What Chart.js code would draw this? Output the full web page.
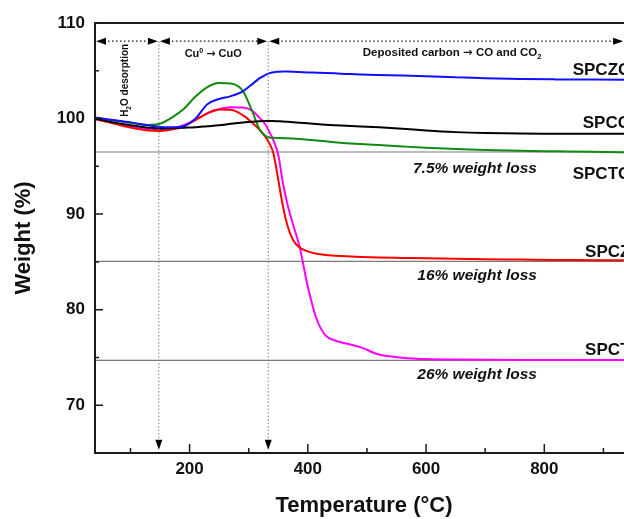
<!DOCTYPE html>
<html>
<head>
<meta charset="utf-8">
<script src="https://cdn.jsdelivr.net/npm/chart.js@4.4.0/dist/chart.umd.min.js"></script>
<style>
  html, body { margin: 0; padding: 0; background: #fff; width: 624px; height: 519px; overflow: hidden; }
  #tgaChart { display: block; }
</style>
</head>
<body>
<canvas id="tgaChart" width="660" height="519"></canvas>
<script>
// temperatures (°C) shared by all curves
const temps = [40, 70, 100, 130, 150, 170, 190, 210, 230, 250, 270, 290, 305, 318, 328, 335, 342, 350, 358, 366,
  375, 386, 400, 415, 430, 445, 465, 490, 520, 560, 600, 650, 700, 760, 820, 880, 950];

// weight (%) per sample
const spczc = [100.1, 99.85, 99.6, 99.3, 99.12, 99.08, 99.2, 100.0, 101.5, 102.05, 102.35, 102.85, 103.55, 104.2, 104.55, 104.75, 104.85, 104.9, 104.93, 104.92,
  104.9, 104.87, 104.83, 104.8, 104.77, 104.73, 104.67, 104.6, 104.55, 104.5, 104.42, 104.32, 104.22, 104.14, 104.1, 104.08, 104.06];
const spcc = [100.0, 99.6, 99.3, 99.05, 98.95, 99.0, 99.05, 99.1, 99.2, 99.3, 99.45, 99.58, 99.67, 99.72, 99.74, 99.75, 99.74, 99.72, 99.7, 99.66,
  99.62, 99.56, 99.5, 99.42, 99.35, 99.3, 99.25, 99.18, 99.08, 98.93, 98.75, 98.58, 98.48, 98.43, 98.42, 98.42, 98.42];
const spctc = [100.0, 99.8, 99.55, 99.33, 99.45, 100.1, 101.0, 102.3, 103.3, 103.72, 103.66, 102.9, 100.9, 98.9, 98.2, 98.02, 97.98, 97.96, 97.95, 97.93,
  97.9, 97.85, 97.78, 97.7, 97.62, 97.52, 97.42, 97.33, 97.22, 97.08, 96.95, 96.82, 96.7, 96.62, 96.57, 96.52, 96.45];
const spcz = [99.95, 99.5, 99.05, 98.75, 98.7, 98.84, 99.2, 99.85, 100.55, 100.95, 100.92, 100.35, 99.6, 98.85, 98.1, 97.4, 96.3, 93.6, 90.8, 88.7,
  87.3, 86.5, 86.1, 85.85, 85.72, 85.65, 85.58, 85.52, 85.47, 85.42, 85.37, 85.32, 85.28, 85.24, 85.2, 85.18, 85.15];
const spct = [99.95, 99.55, 99.15, 98.88, 98.84, 98.95, 99.3, 99.85, 100.55, 100.98, 101.18, 101.15, 100.86, 100.1, 99.4, 98.6, 97.7, 96.2, 93.2, 90.9,
  88.9, 86.6, 82.4, 79.0, 77.3, 76.8, 76.45, 76.05, 75.3, 74.98, 74.83, 74.78, 74.75, 74.73, 74.72, 74.72, 74.72];

// residual weight levels (gray reference lines) and their labels
const lossLevels = [96.5, 85.05, 74.7];
const lossLabels = ['7.5% weight loss', '16% weight loss', '26% weight loss'];

// region boundaries (°C)
const regionEdges = [40, 148, 333, 935];

const sampleNames = ['SPCZC', 'SPCC', 'SPCTC', 'SPCZ', 'SPCT'];

// axes
const xMin = 40, xMax = 950, yMin = 65, yMax = 110;
const xMajorTicks = [200, 400, 600, 800];
const xMinorTicks = [100, 300, 500, 700, 900];
const yMajorTicks = [70, 80, 90, 100, 110];
const yMinorTicks = [75, 85, 95, 105];

const FONT = "'Liberation Sans', Arial, sans-serif";
const ARROW_FONT = "'DejaVu Sans', sans-serif";

const toPoints = (ys) => temps.map((t, i) => ({ x: t, y: ys[i] }));

const curve = (label, ys, color) => ({
  label, data: toPoints(ys), borderColor: color, borderWidth: 2,
  pointRadius: 0, cubicInterpolationMode: 'monotone', fill: false
});

const levelLine = (lvl) => ({
  label: 'level ' + lvl, data: [{ x: xMin, y: lvl }, { x: xMax, y: lvl }],
  borderColor: '#7a7a7a', borderWidth: 1.2, pointRadius: 0, fill: false
});

// draw text with sub/superscripts: parts = [[text, 'sub'|'sup'|'arrow'|undefined], ...]
function partFont(k, size) {
  if (k === 'arrow') return `bold ${size}px ${ARROW_FONT}`;
  return `bold ${k ? size * 0.65 : size}px ${FONT}`;
}

function richText(ctx, parts, x, y, size, align) {
  const widths = parts.map(([t, k]) => { ctx.font = partFont(k, size); return ctx.measureText(t).width; });
  const total = widths.reduce((s, w) => s + w, 0);
  let cx = align === 'center' ? x - total / 2 : x;
  ctx.textAlign = 'left';
  parts.forEach(([t, k], i) => {
    ctx.font = partFont(k, size);
    const dy = k === 'sub' ? size * 0.25 : k === 'sup' ? -size * 0.4 : 0;
    ctx.fillText(t, cx, y + dy);
    cx += widths[i];
  });
}

function arrowHead(ctx, tx, ty, dir) {
  const L = 10, H = 3.5;
  ctx.beginPath();
  ctx.moveTo(tx, ty);
  if (dir === 'left') { ctx.lineTo(tx + L, ty - H); ctx.lineTo(tx + L, ty + H); }
  if (dir === 'right') { ctx.lineTo(tx - L, ty - H); ctx.lineTo(tx - L, ty + H); }
  if (dir === 'down') { ctx.lineTo(tx - H, ty - L); ctx.lineTo(tx + H, ty - L); }
  ctx.closePath();
  ctx.fill();
}

const annotate = {
  id: 'annotate',
  afterDatasetsDraw(chart) {
    const { ctx, chartArea: a, scales: { x, y } } = chart;
    ctx.save();

    // frame
    ctx.strokeStyle = '#1a1a1a';
    ctx.lineWidth = 2;
    ctx.strokeRect(a.left, a.top, a.right - a.left, a.bottom - a.top);

    // inward tick marks
    ctx.lineWidth = 1.5;
    ctx.beginPath();
    xMajorTicks.forEach(v => { const px = x.getPixelForValue(v); ctx.moveTo(px, a.bottom); ctx.lineTo(px, a.bottom - 9); });
    xMinorTicks.forEach(v => { const px = x.getPixelForValue(v); ctx.moveTo(px, a.bottom); ctx.lineTo(px, a.bottom - 5); });
    yMajorTicks.forEach(v => { const py = y.getPixelForValue(v); ctx.moveTo(a.left, py); ctx.lineTo(a.left + 8, py); });
    yMinorTicks.forEach(v => { const py = y.getPixelForValue(v); ctx.moveTo(a.left, py); ctx.lineTo(a.left + 4, py); });
    ctx.stroke();

    // region arrows along the top
    const ay = y.getPixelForValue(108.1);
    ctx.fillStyle = '#000';
    for (let i = 0; i < regionEdges.length - 1; i++) {
      const x0 = x.getPixelForValue(regionEdges[i]) + 1;
      const x1 = x.getPixelForValue(regionEdges[i + 1]) - 1;
      ctx.strokeStyle = '#111';
      ctx.lineWidth = 1.2;
      ctx.setLineDash([1.5, 2.5]);
      ctx.beginPath(); ctx.moveTo(x0 + 8, ay); ctx.lineTo(x1 - 8, ay); ctx.stroke();
      ctx.setLineDash([]);
      arrowHead(ctx, x0, ay, 'left');
      arrowHead(ctx, x1, ay, 'right');
    }

    // vertical dotted boundaries with down arrows
    const by = y.getPixelForValue(65.35);
    regionEdges.slice(1, 3).forEach(t => {
      const px = x.getPixelForValue(t);
      ctx.strokeStyle = '#777';
      ctx.lineWidth = 1;
      ctx.setLineDash([1.5, 2]);
      ctx.beginPath(); ctx.moveTo(px, ay); ctx.lineTo(px, by - 9); ctx.stroke();
      ctx.setLineDash([]);
      arrowHead(ctx, px, by, 'down');
    });

    // region titles
    ctx.fillStyle = '#111';
    ctx.textBaseline = 'alphabetic';
    ctx.save();
    ctx.translate(x.getPixelForValue(89.6) + 4, y.getPixelForValue(104.0));
    ctx.rotate(-Math.PI / 2);
    richText(ctx, [['H'], ['2', 'sub'], ['O desorption']], 0, 0, 10, 'center');
    ctx.restore();
    richText(ctx, [['Cu'], ['0', 'sup'], [' '], ['\u2192', 'arrow'], [' CuO']], x.getPixelForValue(240), y.getPixelForValue(106.45), 11, 'center');
    richText(ctx, [['Deposited carbon '], ['\u2192', 'arrow'], [' CO and CO'], ['2', 'sub']], x.getPixelForValue(644), y.getPixelForValue(106.5), 11.5, 'center');

    // sample names
    const namePos = [[848, 104.52], [865, 98.97], [848, 93.63], [869, 85.46], [869, 75.3]];
    ctx.font = `bold 17px ${FONT}`;
    ctx.textAlign = 'left';
    sampleNames.forEach((n, i) => ctx.fillText(n, x.getPixelForValue(namePos[i][0]), y.getPixelForValue(namePos[i][1])));

    // weight loss labels
    const lossBase = [94.3, 83.13, 72.74];
    ctx.font = `italic bold 15.5px ${FONT}`;
    ctx.textAlign = 'right';
    lossLabels.forEach((s, i) => ctx.fillText(s, x.getPixelForValue(787.6), y.getPixelForValue(lossBase[i])));

    ctx.restore();
  }
};

new Chart(document.getElementById('tgaChart'), {
  type: 'line',
  data: {
    datasets: [
      curve('SPCZC', spczc, '#1010ff'),
      curve('SPCC', spcc, '#000000'),
      curve('SPCTC', spctc, '#118a11'),
      curve('SPCZ', spcz, '#ff0000'),
      curve('SPCT', spct, '#ff00ff'),
      ...lossLevels.map(levelLine)
    ]
  },
  options: {
    responsive: false,
    animation: false,
    layout: { padding: { top: 23, right: 27, left: 0, bottom: 0 } },
    plugins: { legend: { display: false }, tooltip: { enabled: false } },
    scales: {
      x: {
        type: 'linear', min: xMin, max: xMax,
        grid: { display: false, drawTicks: false },
        border: { display: false },
        afterBuildTicks: (s) => { s.ticks = xMajorTicks.map(v => ({ value: v })); },
        afterFit: (s) => { s.height = 66; },
        ticks: { color: '#111', padding: 6, font: { family: FONT, size: 17, weight: 'bold' } },
        title: { display: true, text: 'Temperature (\u00B0C)', color: '#111', padding: { top: 0, bottom: 0 },
          font: { family: FONT, size: 22, weight: 'bold' } }
      },
      y: {
        type: 'linear', min: yMin, max: yMax,
        grid: { display: false, drawTicks: false },
        border: { display: false },
        afterBuildTicks: (s) => { s.ticks = yMajorTicks.map(v => ({ value: v })); },
        afterFit: (s) => { s.width = 95; },
        ticks: { color: '#111', padding: 10, font: { family: FONT, size: 17, weight: 'bold' } },
        title: { display: true, text: 'Weight (%)', color: '#111', padding: { top: 11, bottom: 0 },
          font: { family: FONT, size: 22, weight: 'bold' } }
      }
    }
  },
  plugins: [annotate]
});
</script>
</body>
</html>
